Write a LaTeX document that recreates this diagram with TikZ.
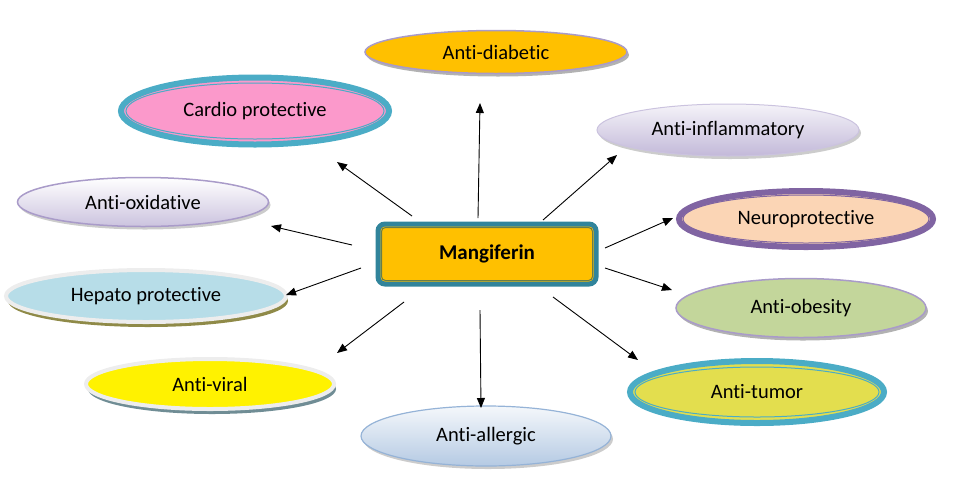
\documentclass[tikz,border=0pt]{standalone}
\usepackage{fontspec}
\setmainfont{Carlito}[Ligatures={NoCommon}]
\usetikzlibrary{shapes.geometric,shadows,arrows.meta}
\definecolor{cteal}{HTML}{4BACC6}
\definecolor{dteal}{HTML}{31849B}
\definecolor{gold}{HTML}{FFC000}
\definecolor{lav}{HTML}{A99BC9}
\definecolor{purp}{HTML}{8064A2}
\definecolor{pinkf}{HTML}{FB99CB}
\definecolor{peach}{HTML}{FBD5B5}
\definecolor{lblue}{HTML}{B7DDE8}
\definecolor{olivef}{HTML}{C3D69B}
\definecolor{tumorf}{HTML}{E3DE4E}
\definecolor{ablue}{HTML}{95B3D7}
\begin{document}
\begin{tikzpicture}[x=1pt,y=-1pt,
  lbl/.style={font=\fontsize{20.5}{24}\selectfont, text=black},
  oval/.style={ellipse, lbl, inner sep=0pt},
  shd/.style={drop shadow={shadow xshift=2pt, shadow yshift=-3pt, fill=#1, opacity=1}},
  bigshd/.style={drop shadow={shadow xshift=2pt, shadow yshift=-5pt, fill=#1, opacity=1}},
  arr/.style={-{Triangle[length=10pt,width=8pt]}, line width=0.9pt}
]
\useasboundingbox (0,0) rectangle (965,493);

% ellipses
\node[oval, minimum width=262pt, minimum height=43pt, fill=gold, draw=lav, line width=1.5pt, shd=black!30] (dia) at (496,52) {Anti-diabetic};

\node[oval, minimum width=268pt, minimum height=67pt, fill=pinkf, draw=cteal, line width=6pt] (car) at (255,111) {Cardio protective};
\draw[cteal, line width=1pt] (car.center) ellipse (129 and 28);

\node[oval, minimum width=262pt, minimum height=52pt, top color=lav!12, bottom color=lav!70, draw=lav!60, line width=1pt, shd=black!20] (inf) at (728,130) {Anti-inflammatory};

\node[oval, minimum width=251pt, minimum height=49pt, top color=white, bottom color=lav!60, draw=lav, line width=1.5pt, shd=black!20] (oxi) at (143,202) {Anti-oxidative};

\node[oval, minimum width=254pt, minimum height=56pt, fill=peach, draw=purp, line width=6pt] (neu) at (806,219) {Neuroprotective};
\draw[purp, line width=1pt] (neu.center) ellipse (123 and 24);

\node[oval, minimum width=280pt, minimum height=52pt, fill=lblue, draw=black!7, line width=4pt, bigshd={olive!50!gray}] (hep) at (146,296) {Hepato protective};

\node[oval, minimum width=250pt, minimum height=59pt, fill=olivef, draw=lav, line width=1.5pt, shd=black!30] (obe) at (801,308) {Anti-obesity};

\node[oval, minimum width=248pt, minimum height=50pt, fill=yellow, draw=black!7, line width=4pt, bigshd={cteal!30!gray}] (vir) at (210,384) {Anti-viral};

\node[oval, minimum width=254pt, minimum height=62pt, fill=tumorf, draw=cteal, line width=6pt] (tum) at (757,392) {Anti-tumor};
\draw[cteal, line width=1pt] (tum.center) ellipse (122 and 25);

\node[oval, minimum width=250pt, minimum height=60pt, top color=ablue!10, bottom color=ablue!70, draw=ablue, line width=1.2pt, shd=black!20] (all) at (486,436) {Anti-allergic};

% centre box
\node[rectangle, rounded corners=7pt, minimum width=218pt, minimum height=60pt, fill=gold, draw=dteal, line width=5pt, lbl, font=\fontsize{21}{24}\selectfont\bfseries] (m) at (487,254) {Mangiferin};
\draw[dteal!60!gold!80!black, line width=1pt, rounded corners=4pt] ([shift={(6pt,6pt)}]m.south west) rectangle ([shift={(-6pt,-6pt)}]m.north east);

% arrow end points
\coordinate (s1) at (478,218); \coordinate (e1) at (480,103);
\coordinate (s2) at (412,216); \coordinate (e2) at (337,162);
\coordinate (s3) at (543,220); \coordinate (e3) at (617,155);
\coordinate (s4) at (352,245); \coordinate (e4) at (271,226);
\coordinate (s5) at (605,248); \coordinate (e5) at (673,218);
\coordinate (s6) at (361,268); \coordinate (e6) at (286,295);
\coordinate (s7) at (605,268); \coordinate (e7) at (672,290);
\coordinate (s8) at (404,302); \coordinate (e8) at (337,353);
\coordinate (s9) at (480,310); \coordinate (e9) at (481,408);
\coordinate (s10) at (553,297); \coordinate (e10) at (638,360);

\foreach \i in {1,...,10} \draw[arr] (s\i) -- (e\i);
\end{tikzpicture}
\end{document}
